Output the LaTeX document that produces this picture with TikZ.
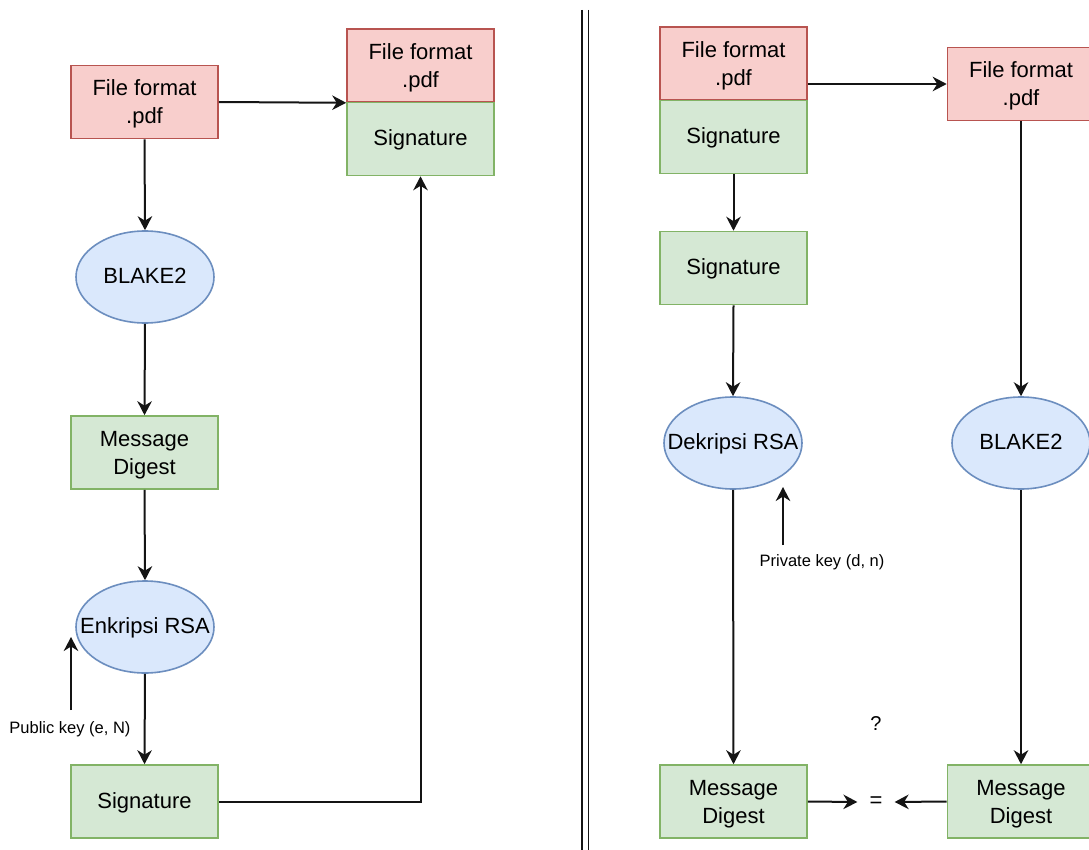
\documentclass[tikz,border=0pt]{standalone}
\usepackage{fontspec}
\setmainfont{Liberation Sans}
\usetikzlibrary{arrows.meta,shapes.geometric}
\definecolor{rfill}{HTML}{F8CECC}
\definecolor{rdraw}{HTML}{B85450}
\definecolor{gfill}{HTML}{D5E8D4}
\definecolor{gdraw}{HTML}{82B366}
\definecolor{bfill}{HTML}{DAE8FC}
\definecolor{bdraw}{HTML}{6C8EBF}
\definecolor{ln}{HTML}{141414}
\tikzset{
  box/.style={rectangle, draw, line width=1.6pt, minimum width=147pt, minimum height=73pt,
    inner sep=0pt, align=center, font=\fontsize{22}{28}\selectfont},
  redbox/.style={box, fill=rfill, draw=rdraw},
  greenbox/.style={box, fill=gfill, draw=gdraw},
  twoline/.style={text depth=-1pt},
  oneline/.style={text depth=2pt},
  oval/.style={ellipse, draw=bdraw, fill=bfill, line width=1.6pt, minimum width=138pt,
    minimum height=92pt, inner xsep=-25pt, inner ysep=0pt, align=center,
    text depth=3pt, font=\fontsize{22}{28}\selectfont},
  arr/.style={draw=ln, line width=2pt, -{Stealth[length=14pt,width=14.5pt,inset=4.5pt]}},
  small/.style={inner sep=0pt, font=\fontsize{16.5}{20}\selectfont},
}
\begin{document}
\begin{tikzpicture}[x=1pt,y=-1pt]
\useasboundingbox (0,0) rectangle (1089,850);
\clip (0,0) rectangle (1089,850);
\fill[white] (0,0) rectangle (1089,850);

% ---------- left half ----------
\node[redbox, twoline] (fA) at (144.5,102) {File format\\.pdf};
\node[redbox, twoline] (topR) at (420.5,65.5) {File format\\.pdf};
\node[greenbox, oneline] (topS) at (420.5,139) {Signature};
\node[oval] (blakeL) at (145,277) {BLAKE2};
\node[greenbox, twoline] (mdL) at (144.5,452.5) {Message\\Digest};
\node[oval] (encL) at (145,627) {Enkripsi RSA};
\node[greenbox, oneline] (sigL) at (144.5,801.5) {Signature};
\node[small] (pub) at (70,729) {Public key (e, N)};
\coordinate (pubS) at (71,710);
\coordinate (pubE) at (71,637);

\draw[arr] (fA.east) -- (topR.south west);
\draw[arr] (fA.south) -- (blakeL.north);
\draw[arr] (blakeL.south) -- (mdL.north);
\draw[arr] (mdL.south) -- (encL.north);
\draw[arr] (encL.south) -- (sigL.north);
\draw[arr] (pubS) -- (pubE);
\draw[arr] (sigL.east) -| (topS.south);

% ---------- separator ----------
\draw[ln, line width=1.8pt] (582,10) -- (582,850);
\draw[ln, line width=1.8pt] (588.5,10) -- (588.5,850);

% ---------- right half ----------
\node[redbox, twoline] (rtop) at (733.5,63.5) {File format\\.pdf};
\node[greenbox, oneline] (rsig) at (733.5,137) {Signature};
\node[redbox, twoline] (rfile) at (1021,84) {File format\\.pdf};
\node[greenbox, oneline] (rsig2) at (733.5,268) {Signature};
\node[oval] (dek) at (733,443) {Dekripsi RSA};
\node[oval] (blakeR) at (1021,443) {BLAKE2};
\node[small] (priv) at (822,562) {Private key (d, n)};
\coordinate (privS) at (783,545);
\coordinate (privE) at (783,487);
\node[greenbox, twoline] (mdR1) at (733.5,801.5) {Message\\Digest};
\node[greenbox, twoline] (mdR2) at (1021,801.5) {Message\\Digest};
\node[inner xsep=12pt, inner ysep=4pt, font=\fontsize{22}{27}\selectfont] (eq) at (876,802) {=};
\node[inner sep=0pt, font=\fontsize{20}{24}\selectfont] (q) at (876,724) {?};

\draw[arr] (rtop.east |- rfile.west) -- (rfile.west);
\draw[arr] (rsig.south) -- (rsig2.north);
\draw[arr] (rsig2.south) -- (dek.north);
\draw[arr] (privS) -- (privE);
\draw[arr] (dek.south) -- (mdR1.north);
\draw[arr] (rfile.south) -- (blakeR.north);
\draw[arr] (blakeR.south) -- (mdR2.north);
\draw[arr] (mdR1.east) -- (eq.west);
\draw[arr] (mdR2.west) -- (eq.east);
\end{tikzpicture}
\end{document}
